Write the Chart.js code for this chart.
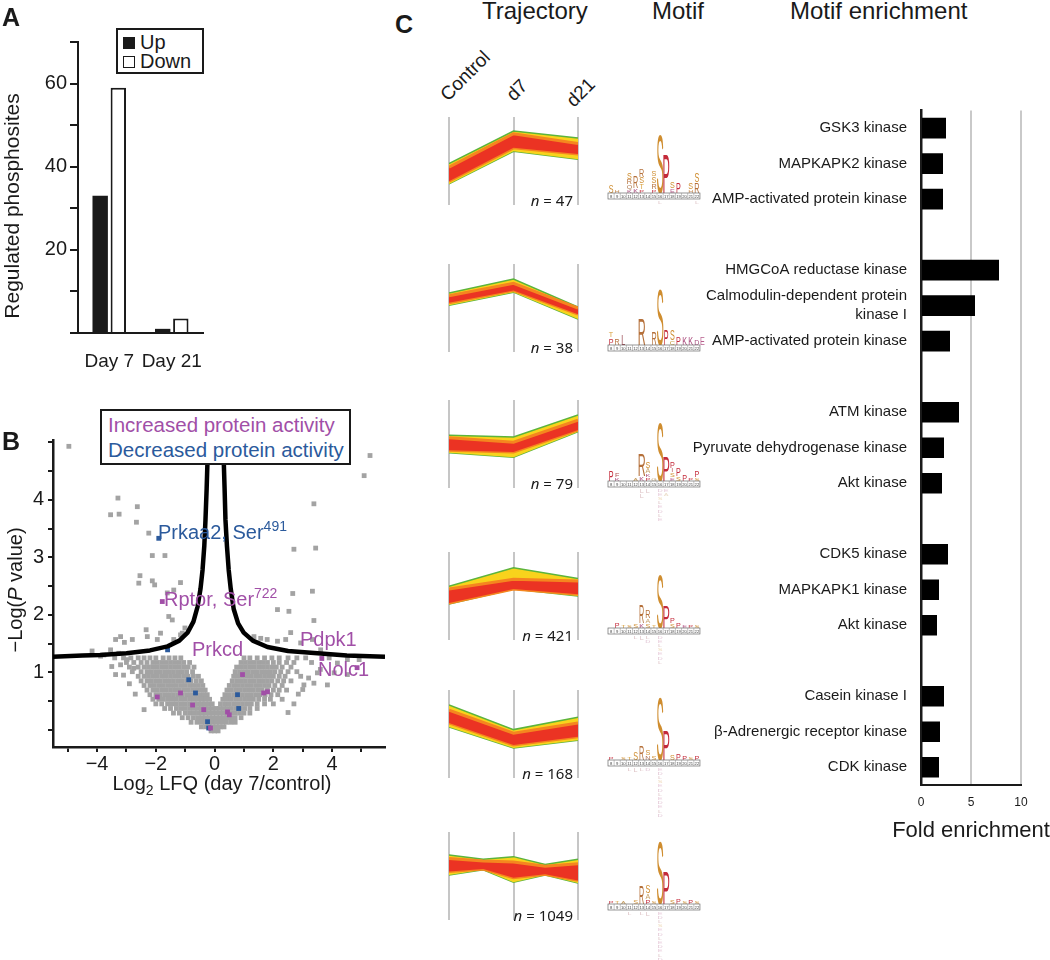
<!DOCTYPE html>
<html lang="en">
<head>
<meta charset="UTF-8">
<title>Phosphoproteome - trajectories and motifs</title>
<script src="https://cdn.jsdelivr.net/npm/chart.js"></script>
<style>
  * { margin: 0; padding: 0; box-sizing: border-box; }
  body { width: 1050px; height: 960px; position: relative; overflow: hidden; background: #fff;
         font-family: 'Liberation Sans', Arial, sans-serif; color: #1a1a1a; }
  canvas { position: absolute; z-index: 1; }
  .txt { position: absolute; white-space: nowrap; line-height: 1; z-index: 2; }
  .panel { font-size: 25px; font-weight: bold; }
  .head { font-size: 24px; }
  .rot { font-size: 19px; transform-origin: 0 100%; transform: rotate(-45deg); }
  .vtitle { text-align: center; transform: rotate(-90deg); }
  .legendA { position: absolute; left: 116px; top: 28px; width: 88px; height: 46px; z-index: 2;
             border: 2px solid #1a1a1a; background: #fff; font-size: 20px; }
  .legendA div { position: absolute; left: 5px; line-height: 20px; }
  .sw { display: inline-block; width: 12px; height: 12px; border: 1.5px solid #1a1a1a; margin-right: 5px; }
  .legendB { position: absolute; left: 100px; top: 409px; width: 251px; height: 56px; z-index: 2;
             border: 2px solid #1a1a1a; background: #fff; font-size: 20.5px; padding: 1px 0 0 6px; line-height: 25px; }
  .purple { color: #a14fa7; }
  .blue { color: #2b5a9c; }
  .ann { font-size: 20px; }
  .ann sup { font-size: 14px; vertical-align: 8px; line-height: 0; }
  .nlab { font-family: 'Noto Sans', sans-serif; font-size: 15px; width: 90px; text-align: right; line-height: 18px; }
  #motifs { position: absolute; left: 0; top: 0; z-index: 2; }
</style>
</head>
<body>
  <!-- panel A -->
  <div class="txt panel" style="left:2px;top:5px">A</div>
  <canvas id="chartA" width="215" height="380" style="left:0;top:0"></canvas>
  <div class="txt vtitle" style="left:-118px;top:195px;width:260px;font-size:21px;line-height:22px">Regulated phosphosites</div>
  <div class="legendA">
    <div style="top:2px"><span class="sw" style="background:#1a1a1a"></span>Up</div>
    <div style="top:21px"><span class="sw" style="background:#fff"></span>Down</div>
  </div>

  <!-- panel B -->
  <div class="txt panel" style="left:2px;top:429px">B</div>
  <canvas id="chartB" width="400" height="404" style="left:0;top:400px"></canvas>
  <div class="legendB">
    <div class="purple">Increased protein activity</div>
    <div class="blue">Decreased protein activity</div>
  </div>
  <div class="txt ann blue" style="left:158px;top:522px">Prkaa2, Ser<sup>491</sup></div>
  <div class="txt ann purple" style="left:164px;top:589px">Rptor, Ser<sup>722</sup></div>
  <div class="txt ann purple" style="left:192px;top:639px">Prkcd</div>
  <div class="txt ann purple" style="left:300px;top:629px">Pdpk1</div>
  <div class="txt ann purple" style="left:318px;top:659px">Nolc1</div>
  <div class="txt vtitle" style="left:-105px;top:579px;width:240px;font-size:20px;line-height:22px">&minus;Log(<i>P</i> value)</div>
  <div class="txt" style="left:90px;top:773px;width:264px;text-align:center;font-size:20px">Log<sub style="font-size:14px;vertical-align:-5px;line-height:0">2</sub> LFQ (day 7/control)</div>

  <!-- panel C -->
  <div class="txt panel" style="left:395px;top:12px">C</div>
  <div class="txt head" style="left:482px;top:-1px">Trajectory</div>
  <div class="txt head" style="left:652px;top:-1px">Motif</div>
  <div class="txt head" style="left:790px;top:-1px">Motif enrichment</div>
  <div class="txt rot" style="left:450px;top:85px">Control</div>
  <div class="txt rot" style="left:516px;top:85px">d7</div>
  <div class="txt rot" style="left:576px;top:91px">d21</div>

  <canvas id="traj0" width="137" height="88" style="left:445px;top:117px"></canvas>
  <canvas id="traj1" width="137" height="88" style="left:445px;top:264px"></canvas>
  <canvas id="traj2" width="137" height="88" style="left:445px;top:400px"></canvas>
  <canvas id="traj3" width="137" height="88" style="left:445px;top:552px"></canvas>
  <canvas id="traj4" width="137" height="88" style="left:445px;top:690px"></canvas>
  <canvas id="traj5" width="137" height="88" style="left:445px;top:832px"></canvas>

  <canvas id="chartC" width="360" height="752" style="left:690px;top:95px"></canvas>
  <div class="txt" style="left:871px;top:819px;width:200px;text-align:center;font-size:22px">Fold enrichment</div>
  <svg id="motifs" width="1050" height="960"></svg>

<script>
// ---------- data: panel A ----------
const daysA = ['Day 7', 'Day 21'];
const upA = [33, 1];
const downA = [59, 3.5];
const yLabelsA = [20, 40, 60];

// ---------- data: panel B (volcano) ----------
const xLabelsB = [-4, -2, 0, 2, 4];
const yLabelsB = [1, 2, 3, 4];
const curveLeft = [[-5.5, 1.27], [-4.5, 1.29], [-3.9, 1.3], [-3, 1.33], [-2.2, 1.38], [-1.6, 1.45], [-1.2, 1.55],
  [-0.92, 1.69], [-0.72, 1.88], [-0.58, 2.14], [-0.48, 2.45], [-0.41, 2.78], [-0.35, 3.2], [-0.31, 3.65],
  [-0.27, 4.2], [-0.24, 4.7], [-0.23, 5.04]];
const curveRight = [[0.3, 5.04], [0.31, 4.7], [0.34, 4.2], [0.37, 3.65], [0.42, 3.2], [0.48, 2.78], [0.55, 2.45],
  [0.65, 2.1], [0.8, 1.85], [0.99, 1.69], [1.3, 1.55], [1.8, 1.44], [2.5, 1.37], [3.5, 1.33], [4.5, 1.29], [5.8, 1.27]];
const purplePts = [[-1.78, 2.23], [-1.95, 0.57], [-1.16, 0.64], [-0.75, 0.43], [-0.37, 0.35], [-0.14, 0.03],
  [0.44, 0.31], [0.5, 0.26], [0.95, 0.96], [1.67, 0.64], [1.8, 0.66], [3.65, 1.24], [4.85, 1.08]];
const bluePts = [[-1.9, 3.33], [-1.6, 1.39], [-0.88, 0.87], [-0.65, 0.64], [-0.24, 0.14], [-0.2, 0.03],
  [0.78, 0.61], [0.82, 0.37]];
// dense cloud, read row by row: [y, x values]
const grayRows = [
  [1.25, [-3.4, -3.1, -2.85, -2.6, -2.4, -2.2, -2.0, -1.75, -1.55, -1.35, -1.15, 1.0, 1.2, 1.45, 1.7, 1.95, 2.2, 2.5, 2.8, 3.1, 3.9]],
  [1.17, [-3.0, -2.75, -2.5, -2.3, -2.1, -1.95, -1.8, -1.65, -1.5, -1.35, -1.2, -1.05, -0.85, 0.9, 1.05, 1.2, 1.35, 1.5, 1.65, 1.8, 2.0, 2.2, 2.45, 2.7, 3.3]],
  [1.09, [-2.9, -2.6, -2.4, -2.25, -2.1, -1.95, -1.8, -1.65, -1.5, -1.35, -1.2, -1.05, -0.9, -0.7, 0.75, 0.9, 1.05, 1.2, 1.35, 1.5, 1.65, 1.8, 1.95, 2.1, 2.3, 2.6]],
  [1.01, [-2.8, -2.5, -2.3, -2.15, -2.0, -1.85, -1.7, -1.55, -1.4, -1.25, -1.1, -0.95, -0.75, 0.7, 0.85, 1.0, 1.15, 1.3, 1.45, 1.6, 1.75, 1.9, 2.05, 2.25, 2.5, 2.8]],
  [0.93, [-2.6, -2.4, -2.25, -2.1, -1.95, -1.8, -1.65, -1.5, -1.35, -1.2, -1.05, -0.9, -0.72, -0.55, 0.65, 0.8, 0.95, 1.1, 1.25, 1.4, 1.55, 1.7, 1.85, 2.0, 2.2, 2.4]],
  [0.85, [-2.5, -2.3, -2.15, -2.0, -1.85, -1.7, -1.55, -1.4, -1.25, -1.1, -0.95, -0.8, -0.62, -0.45, 0.6, 0.75, 0.9, 1.05, 1.2, 1.35, 1.5, 1.65, 1.8, 1.95, 2.15, 2.35, 2.6]],
  [0.77, [-2.4, -2.2, -2.05, -1.9, -1.75, -1.6, -1.45, -1.3, -1.15, -1.0, -0.85, -0.7, -0.55, -0.4, 0.5, 0.65, 0.8, 0.95, 1.1, 1.25, 1.4, 1.55, 1.7, 1.85, 2.05, 2.3]],
  [0.69, [-2.3, -2.1, -1.95, -1.8, -1.65, -1.5, -1.35, -1.2, -1.05, -0.9, -0.75, -0.6, -0.45, -0.32, 0.42, 0.57, 0.72, 0.87, 1.02, 1.17, 1.32, 1.47, 1.62, 1.8, 2.0, 2.2, 2.45]],
  [0.61, [-2.2, -2.0, -1.85, -1.7, -1.55, -1.4, -1.25, -1.1, -0.95, -0.8, -0.65, -0.5, -0.37, -0.25, 0.35, 0.5, 0.65, 0.8, 0.95, 1.1, 1.25, 1.4, 1.55, 1.72, 1.92, 2.15]],
  [0.53, [-2.1, -1.9, -1.75, -1.6, -1.45, -1.3, -1.15, -1.0, -0.85, -0.7, -0.55, -0.42, -0.3, -0.17, 0.28, 0.42, 0.57, 0.72, 0.87, 1.02, 1.17, 1.32, 1.5, 1.7, 1.9, 2.3]],
  [0.45, [-2.0, -1.8, -1.6, -1.45, -1.3, -1.15, -1.0, -0.85, -0.7, -0.57, -0.45, -0.33, -0.2, -0.08, 0.2, 0.35, 0.5, 0.65, 0.8, 0.95, 1.1, 1.25, 1.45, 1.7, 2.0]],
  [0.37, [-1.7, -1.5, -1.3, -1.15, -1.0, -0.85, -0.7, -0.57, -0.45, -0.33, -0.2, -0.08, 0.05, 0.17, 0.3, 0.43, 0.57, 0.72, 0.87, 1.02, 1.2, 1.45]],
  [0.29, [-1.4, -1.2, -1.0, -0.85, -0.7, -0.55, -0.42, -0.3, -0.18, -0.06, 0.06, 0.18, 0.3, 0.42, 0.55, 0.7, 0.85, 1.0, 1.2]],
  [0.21, [-1.1, -0.9, -0.72, -0.57, -0.43, -0.3, -0.18, -0.06, 0.06, 0.18, 0.3, 0.42, 0.55, 0.7, 0.9]],
  [0.13, [-0.8, -0.6, -0.45, -0.32, -0.2, -0.08, 0.04, 0.16, 0.28, 0.4, 0.55, 0.7]],
  [0.05, [-0.45, -0.3, -0.17, -0.05, 0.07, 0.19, 0.32]],
  [-0.02, [-0.12, 0.0, 0.12]]
];
// scattered points outside the cloud: [x, y]
const grayLoose = [[-4.96, 4.93], [5.29, 4.77], [5.09, 4.42], [-3.29, 4.03], [-3.54, 3.74], [-3.25, 3.75],
  [-2.63, 3.88], [-2.66, 3.61], [3.38, 3.93], [-2.24, 3.42], [-2.12, 3.03], [-1.69, 3.03], [2.7, 3.14],
  [3.44, 3.16], [-2.54, 2.68], [-2.58, 2.55], [-2.12, 2.59], [-2.04, 2.52], [-1.16, 2.56], [-1.39, 2.43],
  [-1.61, 2.38], [2.66, 2.37], [3.33, 2.41], [2.14, 2.09], [2.53, 2.06], [-1.56, 1.97], [-1.44, 1.91],
  [3.38, 1.9], [-2.33, 1.74], [-1.1, 1.68], [-1.01, 1.77], [2.59, 1.69], [-3.2, 1.62], [-3.37, 1.57],
  [-3.07, 1.52], [-2.8, 1.57], [-2.29, 1.62], [-1.95, 1.57], [-1.84, 1.68], [-4.17, 1.37], [-3.54, 1.39],
  [-3.26, 1.33], [-3.77, 1.3], [-1.39, 1.57], [-1.16, 1.65], [1.34, 1.62], [1.57, 1.59], [1.79, 1.57],
  [2.14, 1.54], [2.42, 1.57], [2.93, 1.51], [3.33, 1.57], [3.61, 1.39], [4.52, 1.22], [4.92, 1.22],
  [4.52, 0.96], [4.07, 0.99], [3.84, 0.78], [3.38, 0.81], [3.04, 0.78], [2.93, 0.93], [3.5, 0.99],
  [4.18, 1.16], [-3.37, 0.96], [-3.2, 1.13], [-3.88, 1.28], [-2.98, 1.22], [-2.75, 1.07], [-2.7, 0.62],
  [-2.9, 0.8], [-3.1, 0.95], [-3.5, 1.1], [2.7, 0.45], [2.85, 0.62], [3.0, 0.7], [3.2, 0.9], [3.6, 1.05],
  [2.5, 0.3], [-2.4, 0.35]];

// ---------- data: panel C trajectories (0 = bottom, 10 = top of each strip) ----------
const trajX = [[0, 1, 2], [0, 1, 2], [0, 1, 2], [0, 1, 2], [0, 1, 2], [0, 0.53, 1, 1.49, 2]];
const trajOuterTop = [[4.7, 8.4, 7.6], [6.7, 8.3, 5.1], [6.0, 5.8, 8.3], [6.1, 8.2, 7.0], [8.3, 5.5, 6.9], [7.4, 6.9, 7.2, 6.3, 6.9]];
const trajOuterBot = [[2.4, 6.1, 5.2], [5.3, 6.8, 3.75], [4.0, 3.5, 6.4], [4.1, 5.8, 5.0], [5.8, 3.4, 4.3], [5.1, 5.7, 4.3, 5.1, 4.2]];
const trajCoreTop = [[4.3, 8.1, 7.0], [6.4, 7.8, 5.0], [5.7, 5.2, 7.7], [5.8, 6.9, 6.7], [7.7, 5.1, 6.25], [7.0, 6.7, 6.6, 6.1, 6.4]];
const trajCoreBot = [[2.7, 6.5, 5.8], [5.6, 7.0, 4.3], [4.3, 4.1, 6.6], [4.2, 5.8, 5.2], [6.25, 3.75, 4.7], [5.5, 5.8, 4.8, 5.2, 4.5]];
const trajN = [47, 38, 79, 421, 168, 1049];
const trajTop = [117, 264, 400, 552, 690, 832];

// ---------- data: panel C motif logos: [column, letter, height] stacked upward ----------
const motifRulerTop = [193, 345, 481, 628, 760, 904];
const rulerNumbers = [8, 9, 10, 11, 12, 13, 14, 15, 16, 17, 18, 19, 20, 21, 22];
const motifLetters = [
  [[0, 'S', 8], [1, 'H', 3], [3, 'K', 3], [3, 'Q', 4], [3, 'R', 5], [3, 'S', 6], [4, 'K', 4], [4, 'R', 12],
   [5, 'P', 3], [5, 'T', 5], [5, 'S', 6], [5, 'R', 8], [7, 'P', 3], [7, 'R', 5], [7, 'S', 7], [7, 'S', 5],
   [8, 'S', 60], [9, 'P', 40], [10, 'E', 4], [10, 'S', 7], [11, 'P', 11], [13, 'H', 3], [13, 'S', 6], [14, 'R', 10], [14, 'S', 9]],
  [[0, 'P', 7], [0, 'T', 5], [1, 'R', 6], [2, 'L', 10], [5, 'R', 27], [7, 'R', 13], [8, 'S', 58], [9, 'P', 16],
   [10, 'C', 4], [10, 'S', 11], [11, 'P', 8], [12, 'K', 8], [13, 'K', 8], [14, 'D', 5], [14.9, 'E', 8]],
  [[0, 'P', 10], [1, 'K', 3], [1, 'F', 4], [4, 'A', 3], [5, 'K', 4], [5, 'R', 23], [6, 'P', 3], [6, 'K', 3], [6, 'A', 5], [6, 'S', 6],
   [7, 'G', 3], [8, 'S', 60], [9, 'P', 25], [10, 'E', 3], [10, 'S', 4], [10, 'I', 4], [10, 'P', 6], [11, 'S', 4], [11, 'P', 8],
   [12, 'P', 6], [13, 'P', 3], [14, 'S', 3], [14, 'P', 7]],
  [[1, 'P', 5], [2, 'T', 3], [3, 'S', 3], [4, 'S', 4], [5, 'K', 4], [5, 'R', 18], [6, 'S', 4], [6, 'A', 4], [6, 'R', 8],
   [7, 'T', 3], [8, 'S', 55], [9, 'P', 23], [10, 'S', 4], [10, 'P', 5], [11, 'P', 5], [12, 'E', 3], [13, 'P', 3], [14, 'S', 3]],
  [[0, 'P', 3], [2, 'S', 3], [3, 'T', 3], [4, 'S', 8], [5, 'R', 14], [6, 'N', 4], [6, 'S', 5], [7, 'S', 4],
   [8, 'S', 64], [9, 'P', 30], [10, 'S', 5], [11, 'P', 6], [12, 'P', 4], [13, 'S', 3], [14, 'P', 4]],
  [[0, 'P', 3], [1, 'T', 3], [2, 'A', 3], [4, 'S', 4], [5, 'R', 19], [6, 'P', 4], [6, 'A', 5], [6, 'S', 8], [7, 'S', 3],
   [8, 'S', 64], [9, 'P', 33], [10, 'S', 4], [11, 'P', 5], [12, 'S', 3], [13, 'P', 4], [14, 'S', 3]]
];
// depleted residues hanging below the ruler
const motifBelow = [
  [[8, 'L', 3], [14, 'L', 3]],
  [],
  [[5, 'L', 4], [5, 'L', 4], [6, 'L', 4], [8, 'D', 3], [8, 'E', 3], [8, 'S', 3], [8, 'L', 3], [8, 'E', 3], [8, 'D', 3],
   [8, 'L', 3], [8, 'E', 3], [9, 'E', 3], [9, 'A', 3]],
  [[4, 'L', 3], [5, 'L', 4], [6, 'L', 3], [6, 'D', 3], [8, 'D', 3], [8, 'E', 3], [8, 'L', 3], [8, 'S', 3], [8, 'E', 3], [8, 'D', 3], [8, 'L', 3]],
  [[3, 'L', 3], [4, 'L', 4], [5, 'L', 3], [6, 'D', 3], [8, 'E', 3], [8, 'D', 3], [8, 'L', 3], [8, 'S', 3], [8, 'E', 3],
   [8, 'D', 3], [8, 'L', 3], [8, 'E', 3], [8, 'D', 3], [8, 'E', 3], [8, 'L', 3], [8, 'D', 3]],
  [[3, 'L', 3], [5, 'L', 3], [6, 'L', 4], [8, 'E', 3], [8, 'D', 3], [8, 'L', 3], [8, 'S', 3], [8, 'E', 3], [8, 'D', 3],
   [8, 'L', 3], [8, 'E', 3], [8, 'D', 3], [8, 'E', 3], [8, 'L', 3], [8, 'D', 3]]
];
const letterColors = { S: '#cf8d2f', T: '#d9a13f', R: '#b5703a', P: '#c42a3a', K: '#a8487a', L: '#9a4a52',
  E: '#b8608e', D: '#a85080', H: '#c8905a', Q: '#b07a50', C: '#c8a040', A: '#c7a066', G: '#c0a070',
  F: '#b05050', I: '#c06060', N: '#b07050' };

// ---------- data: panel C enrichment ----------
const kinaseNames = ['GSK3 kinase', 'MAPKAPK2 kinase', 'AMP-activated protein kinase', '',
  'HMGCoA reductase kinase', ['Calmodulin-dependent protein', 'kinase I'], 'AMP-activated protein kinase', '',
  'ATM kinase', 'Pyruvate dehydrogenase kinase', 'Akt kinase', '',
  'CDK5 kinase', 'MAPKAPK1 kinase', 'Akt kinase', '',
  'Casein kinase I', '\u03b2-Adrenergic receptor kinase', 'CDK kinase'];
const foldEnrichment = [2.5, 2.2, 2.2, null, 7.8, 5.4, 2.9, null, 3.8, 2.3, 2.1, null, 2.7, 1.8, 1.6, null, 2.3, 1.9, 1.8];

// ---------- chart defaults ----------
Chart.defaults.font.family = "'Liberation Sans', Arial, sans-serif";
Chart.defaults.color = '#1a1a1a';
Chart.defaults.animation = false;
Chart.defaults.events = [];
Chart.defaults.plugins.legend.display = false;
Chart.defaults.plugins.tooltip.enabled = false;

const ink = '#1a1a1a';
const toXY = arr => arr.map(([x, y]) => ({ x, y }));

// panel A
new Chart(document.getElementById('chartA'), {
  type: 'bar',
  data: {
    labels: daysA,
    datasets: [
      { label: 'Up', data: upA, backgroundColor: ink, borderWidth: 0, categoryPercentage: 0.58, barPercentage: 0.85 },
      { label: 'Down', data: downA, backgroundColor: '#fff', borderColor: ink, borderWidth: 2, categoryPercentage: 0.58, barPercentage: 0.85 }
    ]
  },
  options: {
    responsive: false,
    layout: { padding: { top: 42, right: 12, left: 0, bottom: 0 } },
    scales: {
      x: {
        grid: { display: false },
        border: { color: ink, width: 2 },
        ticks: { font: { size: 19 }, padding: 9, autoSkip: false, maxRotation: 0, minRotation: 0 },
        afterFit: s => { s.height = 47; }
      },
      y: {
        min: 0, max: 70,
        grid: { drawOnChartArea: false, tickLength: 8, color: ink, lineWidth: 2 },
        border: { color: ink, width: 2 },
        ticks: { stepSize: 10, padding: 3, font: { size: 20 }, callback: v => yLabelsA.includes(v) ? v : '' },
        afterFit: s => { s.width = 78; }
      }
    }
  }
});

// panel B
const grayPoints = [];
grayRows.forEach(([y, xs]) => xs.forEach(x => grayPoints.push({ x, y })));
grayLoose.forEach(([x, y]) => grayPoints.push({ x, y }));

const dotStyle = { pointStyle: 'rect', pointRadius: 3.4, pointBorderWidth: 0, showLine: false };
const curveStyle = { showLine: true, borderColor: '#000', borderWidth: 4.5, pointRadius: 0, borderJoinStyle: 'round', order: 0 };

new Chart(document.getElementById('chartB'), {
  type: 'scatter',
  data: {
    datasets: [
      Object.assign({ data: toXY(curveLeft) }, curveStyle),
      Object.assign({ data: toXY(curveRight) }, curveStyle),
      Object.assign({ data: toXY(purplePts), pointBackgroundColor: '#a14fa7', order: 1 }, dotStyle),
      Object.assign({ data: toXY(bluePts), pointBackgroundColor: '#2b5a9c', order: 1 }, dotStyle),
      Object.assign({ data: grayPoints, pointBackgroundColor: '#a3a3a3', order: 2 }, dotStyle)
    ]
  },
  options: {
    responsive: false,
    layout: { padding: { top: 40, right: 15, left: 0, bottom: 0 } },
    scales: {
      x: {
        type: 'linear', min: -5.5, max: 5.8,
        grid: { drawOnChartArea: false, tickLength: 5, color: ink, lineWidth: 2 },
        border: { color: ink, width: 2.5 },
        ticks: { stepSize: 1, includeBounds: false, padding: 0, font: { size: 20 },
                 callback: v => xLabelsB.includes(v) ? (v < 0 ? '\u2212' + Math.abs(v) : String(v)) : '' },
        afterFit: s => { s.height = 57; }
      },
      y: {
        type: 'linear', min: -0.3, max: 5.04,
        grid: { drawOnChartArea: false, tickLength: 5, color: ink, lineWidth: 2 },
        border: { color: ink, width: 2.5 },
        ticks: { stepSize: 0.5, includeBounds: false, padding: 4, font: { size: 20 },
                 callback: v => yLabelsB.includes(v) ? v : '' },
        afterFit: s => { s.width = 53; }
      }
    }
  }
});

// panel C trajectories
trajN.forEach((n, k) => {
  const xs = trajX[k];
  const pts = arr => arr.map((y, i) => ({ x: xs[i], y }));
  new Chart(document.getElementById('traj' + k), {
    type: 'line',
    data: {
      datasets: [
        { data: pts(trajCoreTop[k]), borderColor: '#f5861f', borderWidth: 3, backgroundColor: '#eb3323', fill: '+1' },
        { data: pts(trajCoreBot[k]), borderColor: '#f5861f', borderWidth: 3, fill: false },
        { data: pts(trajOuterTop[k]), borderColor: '#5cb43c', borderWidth: 1.5, backgroundColor: '#f8d31c', fill: '+1' },
        { data: pts(trajOuterBot[k]), borderColor: '#5cb43c', borderWidth: 1.5, fill: false }
      ]
    },
    options: {
      responsive: false,
      layout: { padding: { left: 4, right: 4, top: 0, bottom: 0 } },
      elements: { point: { radius: 0 }, line: { tension: 0 } },
      scales: {
        x: { type: 'linear', min: 0, max: 2,
             ticks: { display: false, stepSize: 1 },
             grid: { color: '#c6c6c6', lineWidth: 2, drawTicks: false },
             border: { display: false } },
        y: { display: false, min: 0, max: 10 }
      }
    }
  });
  const lab = document.createElement('div');
  lab.className = 'txt nlab';
  lab.style.left = (573 - 90) + 'px';
  lab.style.top = (trajTop[k] + 88 - 14) + 'px';
  lab.innerHTML = '<i>n</i> = ' + n;
  document.body.appendChild(lab);
});

// panel C motif logos
const svg = document.getElementById('motifs');
const ns = 'http://www.w3.org/2000/svg';
const colW = 6.13, rulerX = 608;
function addLetter(x, y, letter, h, opacity) {
  const t = document.createElementNS(ns, 'text');
  t.textContent = letter;
  t.setAttribute('font-size', 10);
  t.setAttribute('font-family', "'Liberation Sans', Arial, sans-serif");
  t.setAttribute('text-anchor', 'middle');
  t.setAttribute('fill', letterColors[letter] || '#b07a50');
  t.setAttribute('opacity', opacity);
  t.setAttribute('transform', `translate(${x},${y}) scale(${h > 20 ? 1.1 : 0.72},${h / 7.2})`);
  svg.appendChild(t);
}
motifRulerTop.forEach((top, k) => {
  const up = {};
  motifLetters[k].forEach(([c, L, h]) => {
    const used = up[c] || 0;
    addLetter(rulerX + c * colW + colW / 2, top - 0.5 - used, L, h, 1);
    up[c] = used + h + 0.6;
  });
  const down = {};
  motifBelow[k].forEach(([c, L, h]) => {
    const used = down[c] || 0;
    addLetter(rulerX + c * colW + colW / 2, top + 7.5 + used + h, L, h, 0.35);
    down[c] = used + h + 1.2;
  });
  const r = document.createElementNS(ns, 'rect');
  r.setAttribute('x', rulerX); r.setAttribute('y', top);
  r.setAttribute('width', colW * rulerNumbers.length); r.setAttribute('height', 6);
  r.setAttribute('fill', '#fff'); r.setAttribute('stroke', '#6a6a6a'); r.setAttribute('stroke-width', 0.7);
  svg.appendChild(r);
  rulerNumbers.forEach((num, i) => {
    if (i > 0) {
      const l = document.createElementNS(ns, 'line');
      l.setAttribute('x1', rulerX + i * colW); l.setAttribute('x2', rulerX + i * colW);
      l.setAttribute('y1', top); l.setAttribute('y2', top + 6);
      l.setAttribute('stroke', '#888'); l.setAttribute('stroke-width', 0.5);
      svg.appendChild(l);
    }
    const t = document.createElementNS(ns, 'text');
    t.textContent = num;
    t.setAttribute('x', rulerX + i * colW + colW / 2); t.setAttribute('y', top + 4.8);
    t.setAttribute('font-size', 4.2); t.setAttribute('text-anchor', 'middle'); t.setAttribute('fill', '#444');
    t.setAttribute('font-family', "'Liberation Sans', Arial, sans-serif");
    svg.appendChild(t);
  });
});

// panel C enrichment bars
new Chart(document.getElementById('chartC'), {
  type: 'bar',
  data: {
    labels: kinaseNames,
    datasets: [{ data: foldEnrichment, backgroundColor: '#000', borderWidth: 0, categoryPercentage: 1, barPercentage: 0.58 }]
  },
  options: {
    indexAxis: 'y',
    responsive: false,
    layout: { padding: { top: 10, right: 29, left: 0, bottom: 0 } },
    scales: {
      x: {
        min: 0, max: 10,
        grid: { color: c => c.tick && c.tick.value === 0 ? 'rgba(0,0,0,0)' : '#c9c9c9', lineWidth: 2, drawTicks: false },
        border: { color: ink, width: 2 },
        ticks: { stepSize: 5, padding: 10, font: { size: 12 } },
        afterFit: s => { s.height = 62; }
      },
      y: {
        grid: { display: false },
        border: { color: ink, width: 2.5 },
        ticks: { autoSkip: false, padding: 6, font: { size: 15, lineHeight: 1.25 } },
        afterFit: s => { s.width = 231; }
      }
    }
  }
});
</script>
</body>
</html>
